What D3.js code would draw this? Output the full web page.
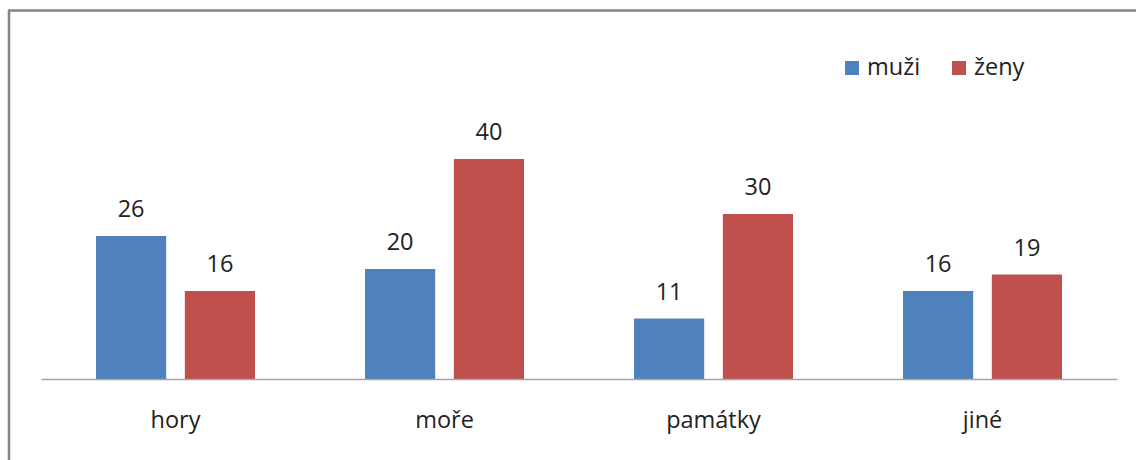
<!DOCTYPE html>
<html>
<head>
<meta charset="utf-8">
<script src="https://cdn.jsdelivr.net/npm/d3@7"></script>
<style>
  body { margin: 0; background: #fff; }
  text { font-family: "Open Sans", Lato, sans-serif; fill: #222; }
</style>
</head>
<body>
<div id="chart"></div>
<script>
// data
const categories = ["hory", "moře", "památky", "jiné"];
const seriesNames = ["muži", "ženy"];
const muzi = [26, 20, 11, 16];
const zeny = [16, 40, 30, 19];
const colors = ["#4F81BD", "#C0504D"];

const W = 1136, H = 460;
const MARGIN = { LEFT: 41, RIGHT: 19, TOP: 159, BOTTOM: 81 };
const WIDTH = W - MARGIN.LEFT - MARGIN.RIGHT;
const BASE = H - MARGIN.BOTTOM;
const FONT = "\"Open Sans\", Lato, sans-serif";
const FS = "23.5px";

const svg = d3.select("#chart").append("svg")
  .attr("width", W)
  .attr("height", H);

// frame (top and left edges visible)
svg.append("line")
  .attr("x1", 8).attr("x2", W).attr("y1", 10.5).attr("y2", 10.5)
  .attr("stroke", "#858585").attr("stroke-width", 2.5);
svg.append("line")
  .attr("x1", 9).attr("x2", 9).attr("y1", 10).attr("y2", H)
  .attr("stroke", "#858585").attr("stroke-width", 2.5);

// scales
const x0 = d3.scaleBand().domain(categories)
  .range([MARGIN.LEFT, MARGIN.LEFT + WIDTH]).paddingInner(0).paddingOuter(0);
const x1 = d3.scaleBand().domain(seriesNames)
  .range([55, x0.bandwidth() - 55]).paddingInner(0.21);
const y = d3.scaleLinear().domain([0, 40]).range([BASE, MARGIN.TOP]);

const rows = categories.map((c, i) => ({ cat: c, vals: [muzi[i], zeny[i]] }));

const groups = svg.selectAll("g.cat")
  .data(rows)
  .enter().append("g")
  .attr("class", "cat")
  .attr("transform", d => `translate(${x0(d.cat)},0)`);

groups.selectAll("rect")
  .data(d => d.vals.map((v, j) => ({ s: seriesNames[j], v, j })))
  .enter().append("rect")
  .attr("x", d => x1(d.s))
  .attr("width", x1.bandwidth())
  .attr("y", d => y(d.v))
  .attr("height", d => BASE - y(d.v))
  .attr("fill", d => colors[d.j]);

groups.selectAll("text.val")
  .data(d => d.vals.map((v, j) => ({ s: seriesNames[j], v, j })))
  .enter().append("text")
  .attr("class", "val")
  .attr("x", d => x1(d.s) + x1.bandwidth() / 2)
  .attr("y", d => y(d.v) - 19)
  .attr("text-anchor", "middle")
  .attr("font-size", FS)
  .text(d => d.v);

// baseline axis
const xAxis = d3.axisBottom(x0).tickSize(0).tickPadding(32);
const axisG = svg.append("g")
  .attr("transform", `translate(0,${BASE})`)
  .call(xAxis);
axisG.select(".domain").attr("stroke", "#a6a6a6").attr("stroke-width", 1.5);
axisG.selectAll("text")
  .attr("font-size", FS)
  .attr("fill", "#222")
  .style("font-family", FONT);

// legend
const legendX = [845, 952];
const legend = svg.selectAll("g.leg")
  .data(seriesNames)
  .enter().append("g")
  .attr("class", "leg")
  .attr("transform", (d, i) => `translate(${legendX[i]},61)`);
legend.append("rect")
  .attr("width", 14).attr("height", 14)
  .attr("fill", (d, i) => colors[i]);
legend.append("text")
  .attr("x", 22).attr("y", 14)
  .attr("font-size", FS)
  .text(d => d);
</script>
</body>
</html>
